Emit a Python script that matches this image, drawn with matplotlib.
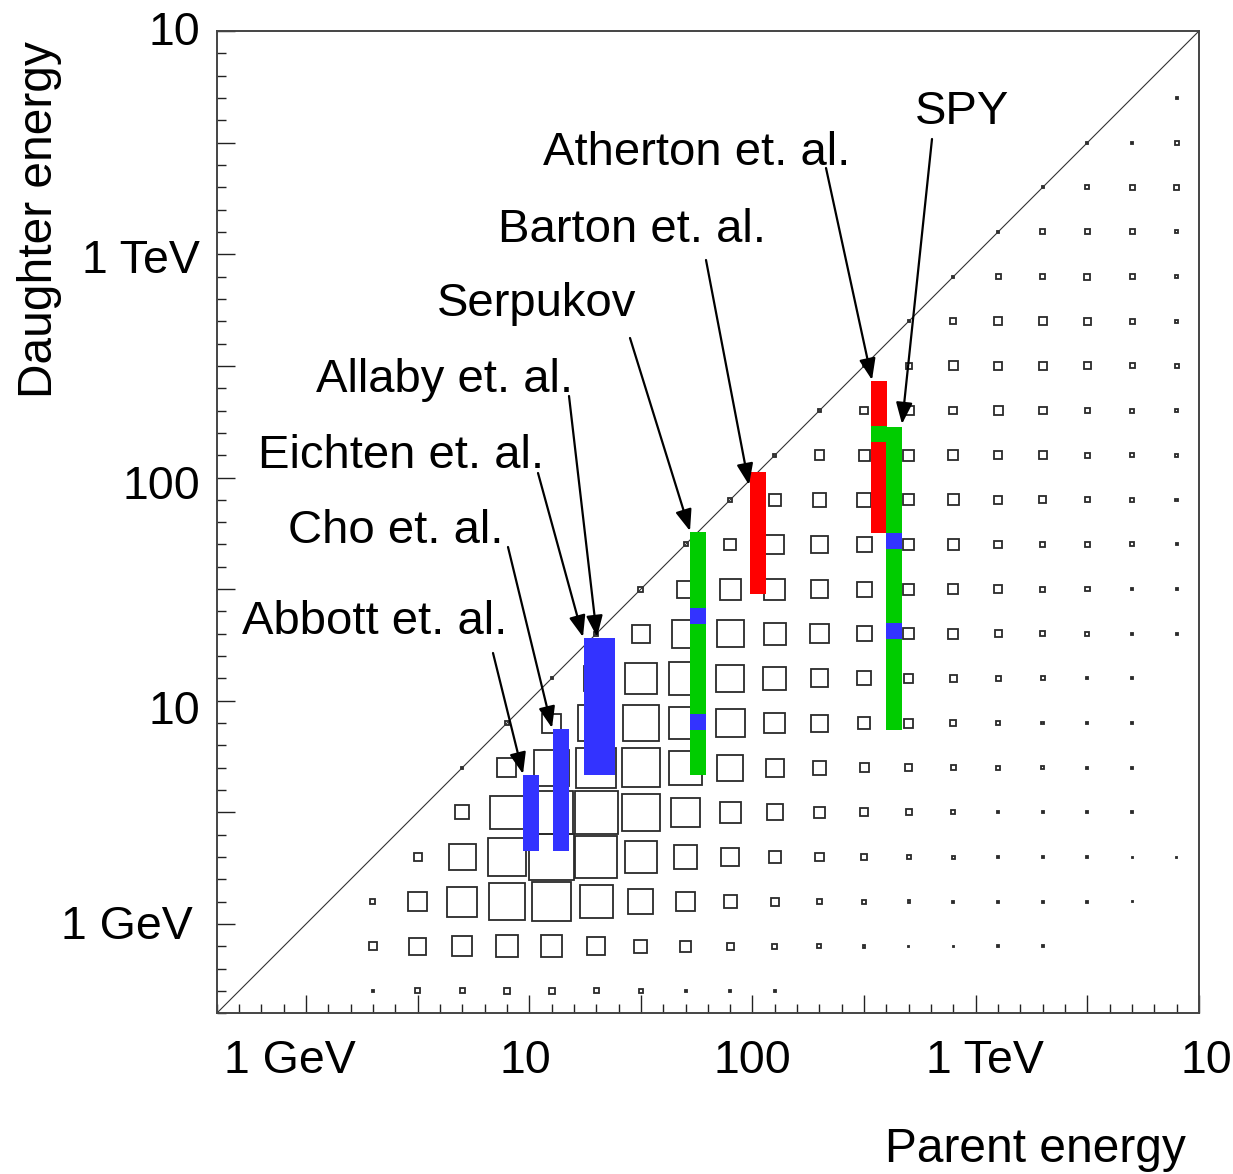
import matplotlib
matplotlib.use("Agg")
import matplotlib.pyplot as plt
from matplotlib.patches import Rectangle
from matplotlib.ticker import MultipleLocator

plt.rcParams['font.family'] = ['Liberation Sans', 'DejaVu Sans']

# ---------------- data (log10 of energy in GeV) ----------------
LOG_MIN, LOG_MAX = -0.4, 4.0
bin_width = 0.2
parent_centers = [0.3, 0.5, 0.7, 0.9, 1.1, 1.3, 1.5, 1.7, 1.9, 2.1,
                  2.3, 2.5, 2.7, 2.9, 3.1, 3.3, 3.5, 3.7, 3.9]
daughter_centers = [-0.3, -0.1, 0.1, 0.3, 0.5, 0.7, 0.9, 1.1, 1.3, 1.5, 1.7,
                    1.9, 2.1, 2.3, 2.5, 2.7, 2.9, 3.1, 3.3, 3.5, 3.7, 3.9]
# bin contents (box size), rows = daughter bins (bottom to top), cols = parent bins
box_content = [
    [2, 5, 5, 6, 6, 5, 4, 2, 2, 2, 0, 0, 0, 0, 0, 0, 0, 0, 0],
    [8, 17, 20, 22, 22, 18, 13, 11, 7, 5, 4, 2.5, 1, 1, 2, 2, 0, 0, 0],
    [5, 19, 30, 37, 39, 33, 25, 19, 13, 8, 5, 4, 2.5, 2, 2, 2, 2, 1, 0],
    [0, 8, 27, 38, 46, 42, 33, 24, 18, 12, 9, 6, 4, 3, 2, 2, 2, 1, 1],
    [0, 0, 14, 34, 44, 43, 38, 29, 21, 16, 11, 8, 6, 4, 2, 2, 2, 2, 0],
    [0, 0, 2, 19, 36, 40, 39, 34, 26, 18, 14, 9, 7, 5, 4, 2.5, 2, 2, 0],
    [0, 0, 0, 4, 19, 36, 37, 33, 29, 21, 17, 12, 9, 6, 4, 2.5, 2, 2, 0],
    [0, 0, 0, 0, 2, 25, 32, 34, 28, 23, 18, 14, 9, 7, 5, 4, 2, 2, 0],
    [0, 0, 0, 0, 0, 4, 18, 28, 27, 22, 19, 15, 11, 10, 7, 5, 4, 2, 2],
    [0, 0, 0, 0, 0, 0, 5, 17, 21, 21, 18, 15, 11, 10, 8, 5, 4.5, 2, 2],
    [0, 0, 0, 0, 0, 0, 0, 4, 12, 19, 17, 15, 11, 11, 8, 5, 5, 4, 2],
    [0, 0, 0, 0, 0, 0, 0, 0, 4, 12, 14, 14, 11, 11, 8, 7, 5, 4, 2.5],
    [0, 0, 0, 0, 0, 0, 0, 0, 0, 3, 10, 11, 11, 10, 8, 8, 5, 4, 3],
    [0, 0, 0, 0, 0, 0, 0, 0, 0, 0, 3, 8, 10, 8, 9, 8, 4.5, 4, 3],
    [0, 0, 0, 0, 0, 0, 0, 0, 0, 0, 0, 2, 6, 9, 8, 8, 7, 5, 4],
    [0, 0, 0, 0, 0, 0, 0, 0, 0, 0, 0, 0, 2, 6, 8, 8, 7, 5, 3],
    [0, 0, 0, 0, 0, 0, 0, 0, 0, 0, 0, 0, 0, 2, 5, 5.5, 6, 5, 3],
    [0, 0, 0, 0, 0, 0, 0, 0, 0, 0, 0, 0, 0, 0, 2, 5, 5, 5, 3],
    [0, 0, 0, 0, 0, 0, 0, 0, 0, 0, 0, 0, 0, 0, 0, 2, 4, 5, 4.5],
    [0, 0, 0, 0, 0, 0, 0, 0, 0, 0, 0, 0, 0, 0, 0, 0, 2, 2, 4],
    [0, 0, 0, 0, 0, 0, 0, 0, 0, 0, 0, 0, 0, 0, 0, 0, 0, 0, 2],
    [0, 0, 0, 0, 0, 0, 0, 0, 0, 0, 0, 0, 0, 0, 0, 0, 0, 0, 0],
]
BOX_FULL = 45.0   # content that fills a whole bin

# measured ranges: (parent log E, daughter log E low, high, colour)
seg_parent = [1.008, 1.142, 1.281, 1.348,
              1.755, 1.755, 1.755,
              2.024,
              2.568, 2.568,
              2.633, 2.633, 2.633]
seg_lo = [0.327, 0.327, 0.667, 0.667,
          0.667, 1.343, 0.868,
          1.478,
          1.751, 2.158,
          0.868, 1.679, 1.276]
seg_hi = [0.667, 0.873, 1.281, 1.281,
          1.755, 1.415, 0.940,
          2.024,
          2.432, 2.230,
          2.226, 1.751, 1.347]
seg_color = ['#3333ff', '#3333ff', '#3333ff', '#3333ff',
             '#00cc00', '#3333ff', '#3333ff',
             '#ff0000',
             '#ff0000', '#00cc00',
             '#00cc00', '#3333ff', '#3333ff']
BAR_HALF = 0.036

experiments = ["Atherton et. al.", "SPY", "Barton et. al.", "Serpukov",
               "Allaby et. al.", "Eichten et. al.", "Cho et. al.", "Abbott et. al."]
x_tick_labels = ["1 GeV", "10", "100", "1 TeV", "10"]
y_tick_labels = ["10", "1 TeV", "100", "10", "1 GeV"]

# ---------------- layout (pixels of the 1233x1174 image) ----------------
W, H, DPI = 1233, 1174, 100
AX_L, AX_R, AX_T, AX_B = 216.7, 1199.0, 31.0, 1013.3
# label text: left x, baseline y
label_pos = [(543, 165), (915, 124), (498, 242), (437, 316),
             (316, 392), (258, 468), (288, 543), (242, 634)]
arrow_tail = [(826, 168), (932, 139), (706, 260), (630, 338),
              (569, 396), (538, 473), (508, 547), (493, 653)]
arrow_tip = [(872, 380), (902, 424), (749, 485), (690, 531),
             (597, 637), (583, 637), (552, 728), (523, 774)]
xlab_cx = [290, 525, 752, 985, 1206]
xlab_base = 1073
ylab_right = [200, 200, 200, 200, 193]
ylab_base = [45, 273, 499, 724, 939]
FS = 34

fig = plt.figure(figsize=(W / DPI, H / DPI), dpi=DPI)
fig.patch.set_facecolor('white')
ax = fig.add_axes([AX_L / W, 1 - AX_B / H, (AX_R - AX_L) / W, (AX_B - AX_T) / H])
ax.set_xlim(LOG_MIN, LOG_MAX)
ax.set_ylim(LOG_MIN, LOG_MAX)
for axis in (ax.xaxis, ax.yaxis):
    axis.set_major_locator(MultipleLocator(0.5))
    axis.set_minor_locator(MultipleLocator(0.1))
ax.tick_params(which='both', direction='in', top=False, right=False,
               labelbottom=False, labelleft=False, color='#222222', width=1.0)
ax.tick_params(which='major', length=13)
ax.tick_params(which='minor', length=6.5)
for s in ax.spines.values():
    s.set_linewidth(1.4)
    s.set_color('#444444')

# boxes
for i, yc in enumerate(daughter_centers):
    for j, xc in enumerate(parent_centers):
        v = box_content[i][j]
        if v <= 0:
            continue
        side = v / BOX_FULL * bin_width
        ax.add_patch(Rectangle((xc - side / 2, yc - side / 2), side, side,
                               fill=False, ec='#2a2a2a', lw=1.3, zorder=2))

# diagonal
ax.plot([LOG_MIN, LOG_MAX], [LOG_MIN, LOG_MAX], color='#333333', lw=0.8, zorder=2)

# measurement bars
for x, lo, hi, c in zip(seg_parent, seg_lo, seg_hi, seg_color):
    ax.add_patch(Rectangle((x - BAR_HALF, lo), 2 * BAR_HALF, hi - lo,
                           facecolor=c, edgecolor='none', lw=0, zorder=3))

# labels + arrows
for name, (lx, ly), (tx, ty), (hx, hy) in zip(experiments, label_pos, arrow_tail, arrow_tip):
    fig.text(lx / W, 1 - ly / H, name, ha='left', va='baseline', fontsize=FS, color='black')
    ax.annotate('', xy=(hx, H - hy), xycoords='figure pixels',
                xytext=(tx, H - ty), textcoords='figure pixels',
                arrowprops=dict(arrowstyle='-|>,head_length=0.65,head_width=0.25',
                                mutation_scale=20, lw=1.6, color='black',
                                shrinkA=0, shrinkB=0), zorder=5)

# axis "tick" labels
for t, cx in zip(x_tick_labels, xlab_cx):
    fig.text(cx / W, 1 - xlab_base / H, t, ha='center', va='baseline', fontsize=33.5)
for t, rx, by in zip(y_tick_labels, ylab_right, ylab_base):
    fig.text(rx / W, 1 - by / H, t, ha='right', va='baseline', fontsize=33.5)

fig.text(39 / W, 1 - 220 / H, 'Daughter energy', rotation=90, ha='center', va='center', fontsize=34.5)
fig.text(885 / W, 1 - 1162 / H, 'Parent energy', ha='left', va='baseline', fontsize=34.5)

fig.savefig('out.png', dpi=DPI, facecolor='white')
